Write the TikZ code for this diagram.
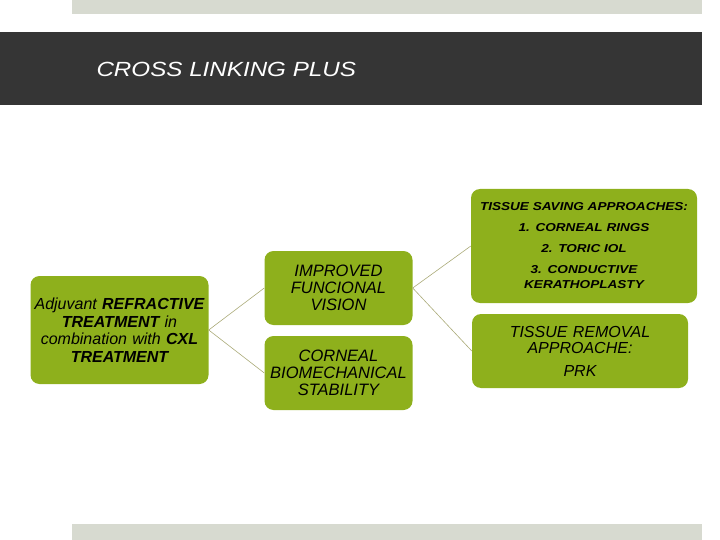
\documentclass[tikz,border=0pt]{standalone}
\usepackage{fontspec}
\setmainfont{Liberation Sans}
\usepackage{xcolor}
\usetikzlibrary{positioning}
\definecolor{olivebox}{RGB}{142,176,28}
\definecolor{linkline}{RGB}{170,170,120}
\definecolor{bandgray}{RGB}{53,53,53}
\definecolor{bargray}{RGB}{215,218,208}
\newfontfamily\widefont[FakeStretch=1.18]{Liberation Sans}
\tikzset{
  planbox/.style={fill=olivebox, rounded corners=9pt, align=center, inner sep=2pt,
    font=\fontsize{16.5}{17}\selectfont\itshape},
  link/.style={linkline, line width=0.6pt}
}

\begin{document}
\begin{tikzpicture}[x=1pt, y=-1pt]
    \useasboundingbox (0,0) rectangle (720,540);
    % Header bars
    \fill[bargray] (72,0) rectangle (702,14);
    \fill[bandgray] (0,32) rectangle (702,105);
    \fill[bargray] (72,524) rectangle (702,540);
    \node[anchor=west, white, font=\widefont\fontsize{20.5}{24}\selectfont\itshape] (title) at (93,69) {CROSS LINKING PLUS};
    % Boxes
    \node[planbox, minimum width=177pt, minimum height=108pt, text width=174pt,
          font=\fontsize{16}{17.5}\selectfont\itshape] (adjuvant) at (119.5,330)
         {Adjuvant \textbf{REFRACTIVE}\\\textbf{TREATMENT} in\\combination with \textbf{CXL}\\\textbf{TREATMENT}};
    \node[planbox, minimum width=147pt, minimum height=74pt, text width=144pt] (vision) at (338.5,288)
         {IMPROVED\\FUNCIONAL\\VISION};
    \node[planbox, minimum width=147pt, minimum height=74pt, text width=144pt] (stability) at (338.5,373)
         {CORNEAL\\BIOMECHANICAL\\STABILITY};
    \node[planbox, minimum width=224pt, minimum height=114pt, text width=222pt,
          font=\widefont\fontsize{11.5}{15}\selectfont\itshape\bfseries] (saving) at (584,246)
         {TISSUE SAVING APPROACHES:\\[6pt] 1. CORNEAL RINGS\\[6pt] 2. TORIC IOL\\[6pt] 3. CONDUCTIVE\\KERATHOPLASTY};
    \node[planbox, minimum width=216pt, minimum height=74pt, text width=212pt,
          font=\fontsize{16}{16.5}\selectfont\itshape] (removal) at (580,351)
         {TISSUE REMOVAL\\APPROACHE:\\[6pt] PRK};
    % Connectors
    \draw[link] (adjuvant.east) -- (vision.west);
    \draw[link] (adjuvant.east) -- (stability.west);
    \draw[link] (vision.east) -- (saving.west);
    \draw[link] (vision.east) -- (removal.west);
\end{tikzpicture}
\end{document}
